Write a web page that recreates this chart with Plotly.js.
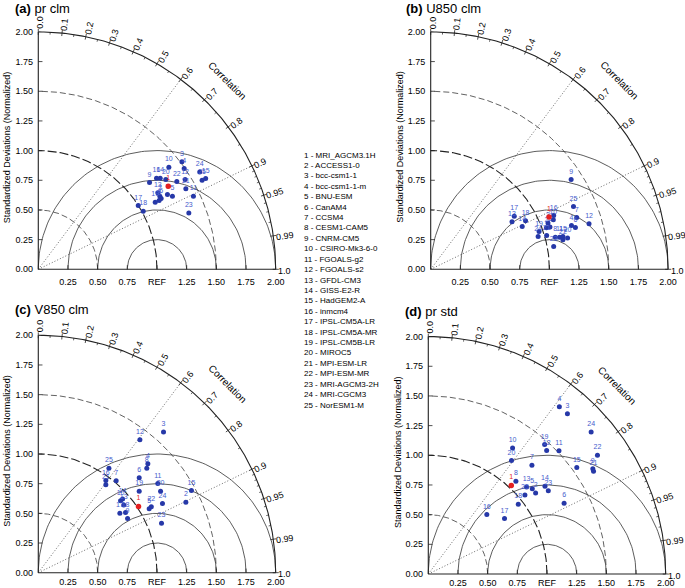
<!DOCTYPE html>
<html><head><meta charset="utf-8">
<script src="https://cdn.plot.ly/plotly-3.0.1.min.js"></script>
<style>html,body{margin:0;padding:0;background:#fff}#chart{width:685px;height:588px}</style>
</head><body><div id="chart"></div>
<script>
// ---------------- data ----------------
const modelNames = ["MRI_AGCM3.1H","ACCESS1-0","bcc-csm1-1","bcc-csm1-1-m","BNU-ESM","CanAM4","CCSM4","CESM1-CAM5","CNRM-CM5","CSIRO-Mk3-6-0","FGOALS-g2","FGOALS-s2","GFDL-CM3","GISS-E2-R","HadGEM2-A","inmcm4","IPSL-CM5A-LR","IPSL-CM5A-MR","IPSL-CM5B-LR","MIROC5","MPI-ESM-LR","MPI-ESM-MR","MRI-AGCM3-2H","MRI-CGCM3","NorESM1-M"];
const panelTags = ["(a)","(b)","(c)","(d)"];
const panelNames = ["pr clm","U850 clm","V850 clm","pr std"];

// normalized std-dev components: X = sigma*R (along REF axis), Y = sigma*sqrt(1-R^2)
const prClmX = [1.095,1.024,1.21,1.229,1.13,1.035,1.088,1.018,0.937,1.10,1.307,1.237,1.007,1.027,1.41,0.996,0.842,0.884,0.985,1.074,1.243,1.167,1.268,1.36,1.38];
const prClmY = [0.70,0.616,0.907,0.85,0.616,0.596,0.63,0.579,0.732,0.86,0.616,0.757,0.644,0.768,0.766,0.768,0.537,0.489,0.565,0.757,0.678,0.74,0.475,0.82,0.751];

const u850X = [0.997,0.975,0.988,1.186,1.005,1.219,1.23,1.05,1.183,1.033,1.086,1.334,0.685,0.771,1.114,1.036,0.704,0.799,0.913,1.153,0.977,1.114,1.036,0.905,1.203];
const u850Y = [0.44,0.35,0.39,0.37,0.356,0.353,0.437,0.271,0.757,0.418,0.271,0.384,0.40,0.361,0.277,0.454,0.446,0.409,0.319,0.263,0.285,0.248,0.192,0.277,0.53];

const v850X = [0.844,1.243,1.055,0.923,0.934,0.85,0.656,0.914,0.752,0.693,1.007,0.856,0.72,0.71,1.29,0.569,0.687,0.735,0.85,1.03,0.569,0.952,1.038,1.046,0.595];
const v850Y = [0.558,0.594,1.186,0.918,0.538,0.80,0.775,0.879,0.456,0.606,0.752,1.121,0.57,0.62,0.693,0.777,0.501,0.507,0.687,0.687,0.741,0.555,0.417,0.583,0.879];

const prStdX = [0.699,0.904,1.172,1.104,0.876,1.144,0.873,0.738,1.386,0.71,1.101,0.997,0.828,0.983,1.251,0.493,0.642,0.758,0.98,0.701,1.392,1.425,1.011,1.372,0.814];
const prStdY = [0.745,0.683,1.351,1.41,0.719,0.595,0.917,0.781,0.886,1.061,1.038,1.041,0.733,0.739,0.897,0.502,0.468,0.587,1.092,0.956,0.866,1.001,0.702,1.196,0.666];

const stdTickVals = [0,0.25,0.5,0.75,1.0,1.25,1.5,1.75,2.0];
const stdTickText = ["0.00","0.25","0.50","0.75","1.00","1.25","1.50","1.75","2.00"];
const refTickVals = [0.25,0.5,0.75,1.0,1.25,1.5,1.75,2.0];
const refTickText = ["0.25","0.50","0.75","REF","1.25","1.50","1.75","2.00"];
const corrMajor = [0.0,0.1,0.2,0.3,0.4,0.5,0.6,0.7,0.8,0.9,0.95,0.99,1.0];
const corrMajorText = ["0.0","0.1","0.2","0.3","0.4","0.5","0.6","0.7","0.8","0.9","0.95","0.99","1.0"];
const corrMinor = [0.05,0.15,0.25,0.35,0.45,0.55,0.65,0.75,0.85,0.91,0.92,0.93,0.94,0.96,0.97,0.98];
const rmsRadii = [0.25,0.5,0.75,1.0];
const stdArcs = [0.5,1.0,1.5];
const corrRays = [0.6,0.9];

// ---------------- layout geometry ----------------
const W = 685, H = 588, S = 118.7;
const panels = [
  {ox:38.3, oy:269.3, xr:2.14, title:[13,8], standoff:3},
  {ox:430.7, oy:269.3, xr:2.135, title:[404,9], standoff:3},
  {ox:38.3, oy:572.7, xr:2.14, title:[13,309], standoff:0},
  {ox:428.3, oy:574.0, xr:2.135, title:[403,311], standoff:0}
];
const panelX = [prClmX,u850X,v850X,prStdX];
const panelY = [prClmY,u850Y,v850Y,prStdY];
const YR = 2.2, LO = -0.02;
const FONT = "Liberation Sans, Arial, Helvetica, sans-serif";
const LINE = "#222";

const traces = [], annotations = [];
const layout = {
  width: W, height: H, margin:{l:0,r:0,t:0,b:0},
  paper_bgcolor:"#fff", plot_bgcolor:"rgba(0,0,0,0)",
  showlegend:false, font:{family:FONT, size:9, color:"#000"},
  annotations: annotations
};

function arcPts(cx, cy, r, a0, a1, n){
  const xs=[], ys=[];
  for(let i=0;i<=n;i++){const t=a0+(a1-a0)*i/n; xs.push(cx+r*Math.cos(t)); ys.push(cy+r*Math.sin(t));}
  return [xs,ys];
}
function lineTrace(xs, ys, xa, ya, color, width, dash){
  return {type:"scatter", mode:"lines", x:xs, y:ys, xaxis:xa, yaxis:ya, hoverinfo:"skip",
    line:{color:color, width:width, dash:dash||"solid"}};
}
function segs(list){
  const xs=[], ys=[];
  list.forEach(s=>{xs.push(s[0],s[2],null); ys.push(s[1],s[3],null);});
  return [xs,ys];
}
function labelWidth(t, fs){
  let w=0; for(const c of t){ w += (c==="." ? 0.278 : 0.556); } return w*fs;
}

panels.forEach((p, k)=>{
  const n = k+1;
  const xa = "x"+(n===1?"":n), ya = "y"+(n===1?"":n);
  const xKey = "xaxis"+(n===1?"":n), yKey = "yaxis"+(n===1?"":n);
  const xd0 = (p.ox + LO*S)/W, xd1 = (p.ox + p.xr*S)/W;
  const yd0 = 1 - (p.oy - LO*S)/H, yd1 = 1 - (p.oy - YR*S)/H;
  layout[xKey] = {domain:[xd0,xd1], range:[LO,p.xr], anchor:ya, showgrid:false, zeroline:false,
    showline:false, ticks:"", tickvals:refTickVals, ticktext:refTickText,
    tickfont:{size:9, family:FONT}, ticklabelstandoff:p.standoff, fixedrange:true};
  layout[yKey] = {domain:[yd0,yd1], range:[LO,YR], anchor:xa, showgrid:false, zeroline:false,
    showline:false, ticks:"", tickvals:stdTickVals, ticktext:stdTickText,
    tickfont:{size:9, family:FONT}, ticklabelstandoff:2, fixedrange:true};

  rmsRadii.forEach(r=>{const a=arcPts(1,0,r,0,Math.PI,120); traces.push(lineTrace(a[0],a[1],xa,ya,"#333",0.8));});
  stdArcs.forEach(r=>{const a=arcPts(0,0,r,0,Math.PI/2,120);
    traces.push(lineTrace(a[0],a[1],xa,ya, r===1?"#222":"#3a3a3a", r===1?1.1:0.8, r===1?"9px,3px":"6px,3px"));});
  corrRays.forEach(R=>{const t=Math.acos(R); traces.push(lineTrace([0,2*Math.cos(t)],[0,2*Math.sin(t)],xa,ya,"#444",0.8,"1px,2px"));});
  {const a=arcPts(0,0,2,0,Math.PI/2,200); traces.push(lineTrace(a[0],a[1],xa,ya,LINE,1.1));}
  traces.push(lineTrace([0,2,null,0,0],[0,0,null,0,2],xa,ya,LINE,1.1));
  const tk=[];
  stdTickVals.forEach(v=>{ if(v>0 && v<2) tk.push([0,v,0.035,v]); });
  refTickVals.forEach(v=>{ if(v<2) tk.push([v,0,v,0.035]); });
  let s1=segs(tk); traces.push(lineTrace(s1[0],s1[1],xa,ya,LINE,0.8));
  const mj=[], mn=[];
  corrMajor.forEach(R=>{const t=Math.acos(R); mj.push([1.975*Math.cos(t),1.975*Math.sin(t),2.025*Math.cos(t),2.025*Math.sin(t)]);});
  corrMinor.forEach(R=>{const t=Math.acos(R); mn.push([1.98*Math.cos(t),1.98*Math.sin(t),2.0*Math.cos(t),2.0*Math.sin(t)]);});
  s1=segs(mj); traces.push(lineTrace(s1[0],s1[1],xa,ya,LINE,0.8));
  s1=segs(mn); traces.push(lineTrace(s1[0],s1[1],xa,ya,LINE,0.7));
  corrMajor.forEach((R,i)=>{
    const t=Math.acos(R), txt=corrMajorText[i];
    const rc = 2.02 + (labelWidth(txt,9)/2 + 0.5)/S;
    const off = 0.015;
    annotations.push({xref:xa, yref:ya, x: rc*Math.cos(t)+off*Math.sin(t), y: rc*Math.sin(t)-off*Math.cos(t),
      text:txt, showarrow:false, xanchor:"center", yanchor:"middle", textangle:-t*180/Math.PI,
      font:{size:9, family:FONT, color:"#000"}});
  });
  annotations.push({xref:xa, yref:ya, x:2.25*Math.cos(Math.PI/4), y:2.25*Math.sin(Math.PI/4), text:"Correlation",
    showarrow:false, xanchor:"center", yanchor:"middle", textangle:45, font:{size:10, family:FONT, color:"#000"}});
  annotations.push({xref:"paper", yref:"paper", x:(p.ox-31)/W, y:1-(p.oy-1.03*S)/H, text:"Standardized Deviations (Normalized)",
    showarrow:false, xanchor:"center", yanchor:"middle", textangle:-90, font:{size:9, family:FONT, color:"#000"}});
  annotations.push({xref:"paper", yref:"paper", x:p.title[0]/W, y:1-p.title[1]/H, text:"<b>"+panelTags[k]+"</b> "+panelNames[k],
    showarrow:false, xanchor:"left", yanchor:"middle", font:{size:13, family:FONT, color:"#000"}});

  const xs=panelX[k], ys=panelY[k];
  const labels = xs.map((_,i)=>String(i+1));
  traces.push({type:"scatter", mode:"markers+text", x:xs.slice(1), y:ys.slice(1), text:labels.slice(1),
    xaxis:xa, yaxis:ya, textposition:"top center", cliponaxis:false, hoverinfo:"text",
    marker:{color:"rgb(38,56,168)", size:5}, textfont:{size:7, color:"rgb(70,92,205)", family:FONT}});
  traces.push({type:"scatter", mode:"markers+text", x:xs.slice(0,1), y:ys.slice(0,1), text:labels.slice(0,1),
    xaxis:xa, yaxis:ya, textposition:"top center", cliponaxis:false, hoverinfo:"text",
    marker:{color:"rgb(228,32,32)", size:5.5}, textfont:{size:7, color:"rgb(228,32,32)", family:FONT}});
});

modelNames.forEach((m,i)=>{
  annotations.push({xref:"paper", yref:"paper", x:302/W, y:1-(155+i*10.42)/H, text:(i+1)+" - "+m,
    showarrow:false, xanchor:"left", yanchor:"middle", font:{size:8, family:FONT, color:"#000"}});
});

Plotly.newPlot("chart", traces, layout, {staticPlot:true, displayModeBar:false});
</script></body></html>
